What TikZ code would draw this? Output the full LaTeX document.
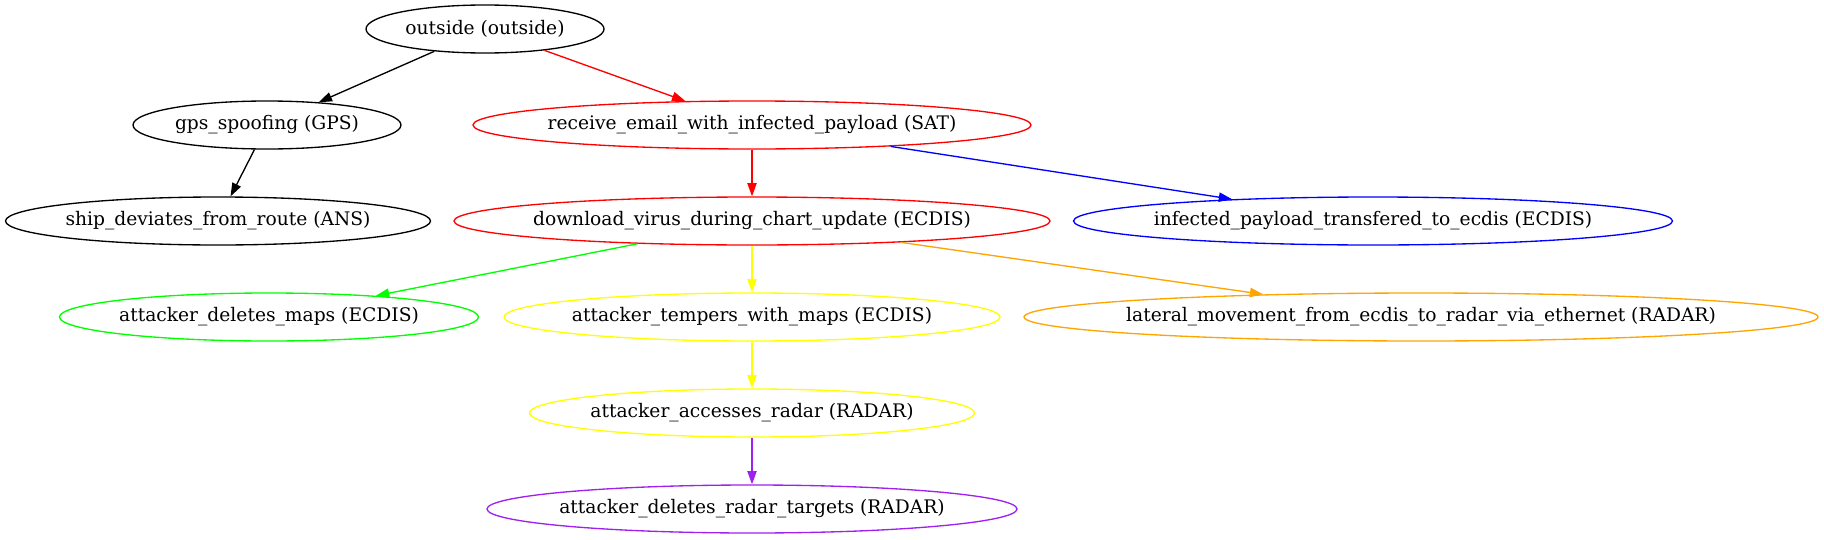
\documentclass[tikz,border=0pt]{standalone}
\usepackage{fontspec}
\setmainfont{DejaVu Serif}
\usetikzlibrary{shapes.geometric,arrows.meta}

\definecolor{gvgreen}{HTML}{00FF00}
\definecolor{gvyellow}{HTML}{FFFF00}
\definecolor{gvorange}{HTML}{FFA500}
\definecolor{gvpurple}{HTML}{A020F0}

\begin{document}
\begin{tikzpicture}[x=0.75pt,y=-0.75pt,line width=1pt,
    >={Triangle[length=10pt,width=7pt]},
    gvnode/.style={ellipse,draw,inner sep=0pt,minimum height=36pt,
      minimum width=#1,font=\fontsize{14pt}{16pt}\selectfont}]
  \useasboundingbox (0,0) rectangle (1824,539);

  \node[gvnode=178.5pt] (outside) at (485,29) {\makebox[0pt]{outside (outside)}};

  \node[gvnode=201pt] (gps) at (267,125) {\makebox[0pt]{gps\_spoofing (GPS)}};
  \node[gvnode=418.5pt,red] (email) at (752,125)
    {\makebox[0pt]{\color{black}receive\_email\_with\_infected\_payload (SAT)}};

  \node[gvnode=318.75pt] (route) at (218,221) {\makebox[0pt]{ship\_deviates\_from\_route (ANS)}};
  \node[gvnode=447pt,red] (download) at (752,221)
    {\makebox[0pt]{\color{black}download\_virus\_during\_chart\_update (ECDIS)}};
  \node[gvnode=449.25pt,blue] (transfer) at (1373,221)
    {\makebox[0pt]{\color{black}infected\_payload\_transfered\_to\_ecdis (ECDIS)}};

  \node[gvnode=314.25pt,gvgreen] (delmaps) at (269,317)
    {\makebox[0pt]{\color{black}attacker\_deletes\_maps (ECDIS)}};
  \node[gvnode=372pt,gvyellow] (tempers) at (752,317)
    {\makebox[0pt]{\color{black}attacker\_tempers\_with\_maps (ECDIS)}};
  \node[gvnode=595.5pt,gvorange] (lateral) at (1421,317)
    {\makebox[0pt]{\color{black}lateral\_movement\_from\_ecdis\_to\_radar\_via\_ethernet (RADAR)}};

  \node[gvnode=333.75pt,gvyellow] (radar) at (752,413)
    {\makebox[0pt]{\color{black}attacker\_accesses\_radar (RADAR)}};

  \node[gvnode=397.5pt,gvpurple] (targets) at (752,509)
    {\makebox[0pt]{\color{black}attacker\_deletes\_radar\_targets (RADAR)}};

  \draw[->] (outside) -- (gps);
  \draw[->,red] (outside) -- (email);
  \draw[->] (gps) -- (route);
  \draw[->,red] (email) -- (download);
  \draw[->,blue] (email) -- (transfer);
  \draw[->,gvgreen] (download) -- (delmaps);
  \draw[->,gvyellow] (download) -- (tempers);
  \draw[->,gvorange] (download) -- (lateral);
  \draw[->,gvyellow] (tempers) -- (radar);
  \draw[->,gvpurple] (radar) -- (targets);
\end{tikzpicture}
\end{document}
